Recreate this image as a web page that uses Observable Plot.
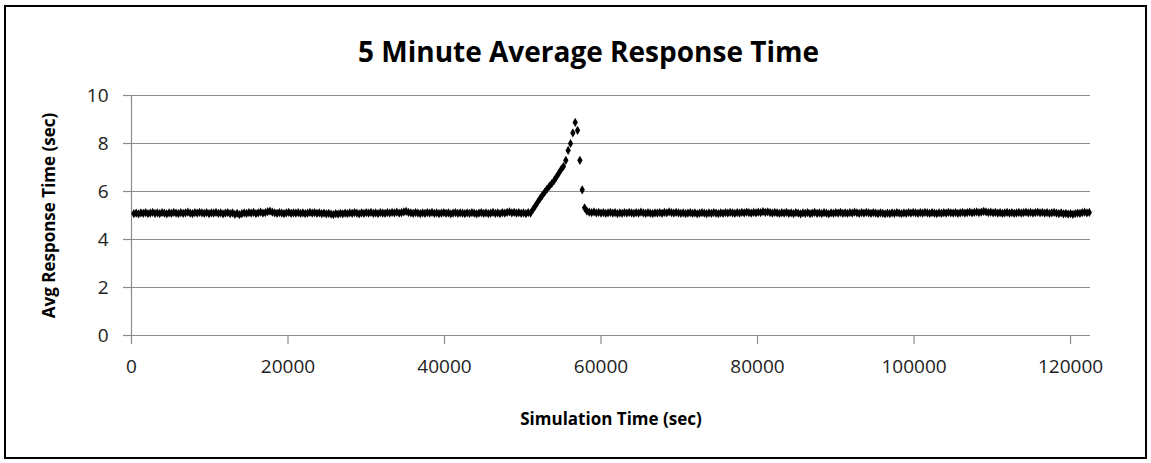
<!DOCTYPE html>
<html>
<head>
<meta charset="utf-8">
<script src="https://cdn.jsdelivr.net/npm/d3@7"></script>
<script src="https://cdn.jsdelivr.net/npm/@observablehq/plot@0.6"></script>
<style>
  html, body { margin: 0; padding: 0; background: #fff; }
  #wrap { position: relative; width: 1151px; height: 463px; }
  #border { position: absolute; left: 4px; top: 5px; width: 1139px; height: 450px; border: 2px solid #000; pointer-events: none; }
</style>
</head>
<body>
<div id="wrap"><div id="border"></div></div>
<script>
const chartTitle = "5 Minute Average Response Time";
const xTitle = "Simulation Time (sec)";
const yTitle = "Avg Response Time (sec)";
const xTicks = [0, 20000, 40000, 60000, 80000, 100000, 120000];
const yTicks = [0, 2, 4, 6, 8, 10];
const firstSampleTime = 300;   // seconds
const sampleInterval = 300;    // 5-minute averages

// Avg response time (sec), before the spike (t = 300 .. 51000)
const baselineBefore = [
  5.08, 5.10, 5.07, 5.11, 5.09, 5.12, 5.08, 5.10, 5.13, 5.09,
  5.11, 5.08, 5.12, 5.10, 5.07, 5.11, 5.09, 5.13, 5.10, 5.08,
  5.12, 5.09, 5.11, 5.14, 5.10, 5.08, 5.12, 5.10, 5.13, 5.11,
  5.09, 5.12, 5.08, 5.11, 5.10, 5.13, 5.09, 5.11, 5.07, 5.10,
  5.12, 5.08, 5.11, 5.05, 5.09, 5.04, 5.08, 5.11, 5.09, 5.12,
  5.10, 5.13, 5.08, 5.11, 5.14, 5.10, 5.12, 5.16, 5.18, 5.14,
  5.11, 5.09, 5.12, 5.10, 5.08, 5.11, 5.13, 5.09, 5.11, 5.10,
  5.12, 5.09, 5.11, 5.08, 5.10, 5.13, 5.10, 5.12, 5.09, 5.11,
  5.08, 5.10, 5.07, 5.09, 5.06, 5.04, 5.08, 5.06, 5.09, 5.07,
  5.10, 5.08, 5.11, 5.09, 5.12, 5.10, 5.07, 5.11, 5.09, 5.12,
  5.10, 5.13, 5.09, 5.11, 5.08, 5.12, 5.10, 5.09, 5.12, 5.10,
  5.13, 5.11, 5.14, 5.10, 5.12, 5.15, 5.17, 5.13, 5.11, 5.09,
  5.12, 5.10, 5.08, 5.11, 5.09, 5.12, 5.10, 5.13, 5.09, 5.11,
  5.08, 5.10, 5.12, 5.09, 5.11, 5.07, 5.10, 5.12, 5.09, 5.11,
  5.10, 5.08, 5.11, 5.09, 5.12, 5.10, 5.07, 5.10, 5.12, 5.09,
  5.11, 5.08, 5.10, 5.13, 5.09, 5.11, 5.08, 5.12, 5.10, 5.13,
  5.15, 5.11, 5.13, 5.10, 5.12, 5.09, 5.11, 5.08, 5.12, 5.10
];
// The spike (t = 51300 .. 57900)
const spike = [
  5.25, 5.40, 5.55, 5.70, 5.84, 5.97, 6.10, 6.22, 6.33, 6.45,
  6.60, 6.76, 6.92, 7.05, 7.30, 7.71, 8.00, 8.44, 8.88, 8.55,
  7.30, 6.07, 5.32
];
// After the spike (t = 58200 .. 122400)
const baselineAfter = [
  5.18, 5.14, 5.12, 5.15, 5.11, 5.13, 5.10, 5.12, 5.09, 5.11,
  5.13, 5.10, 5.12, 5.08, 5.11, 5.09, 5.12, 5.10, 5.13, 5.11,
  5.09, 5.12, 5.10, 5.14, 5.11, 5.09, 5.12, 5.10, 5.08, 5.11,
  5.10, 5.12, 5.09, 5.13, 5.11, 5.15, 5.12, 5.10, 5.13, 5.11,
  5.09, 5.11, 5.08, 5.10, 5.12, 5.09, 5.11, 5.07, 5.10, 5.12,
  5.10, 5.08, 5.11, 5.09, 5.12, 5.10, 5.08, 5.11, 5.09, 5.12,
  5.10, 5.13, 5.11, 5.09, 5.12, 5.10, 5.13, 5.11, 5.14, 5.12,
  5.10, 5.13, 5.11, 5.14, 5.12, 5.16, 5.13, 5.15, 5.12, 5.10,
  5.13, 5.11, 5.09, 5.12, 5.10, 5.13, 5.09, 5.11, 5.08, 5.12,
  5.10, 5.07, 5.11, 5.09, 5.12, 5.08, 5.10, 5.13, 5.09, 5.11,
  5.08, 5.12, 5.10, 5.07, 5.11, 5.09, 5.12, 5.10, 5.13, 5.09,
  5.11, 5.09, 5.12, 5.10, 5.14, 5.11, 5.09, 5.12, 5.10, 5.13,
  5.11, 5.09, 5.12, 5.10, 5.08, 5.11, 5.09, 5.07, 5.10, 5.08,
  5.11, 5.09, 5.12, 5.10, 5.08, 5.11, 5.09, 5.12, 5.10, 5.13,
  5.11, 5.09, 5.12, 5.10, 5.13, 5.11, 5.09, 5.12, 5.10, 5.08,
  5.11, 5.09, 5.12, 5.10, 5.13, 5.11, 5.10, 5.12, 5.09, 5.11,
  5.13, 5.10, 5.12, 5.14, 5.11, 5.13, 5.15, 5.12, 5.14, 5.17,
  5.15, 5.12, 5.14, 5.11, 5.13, 5.10, 5.12, 5.09, 5.11, 5.13,
  5.10, 5.12, 5.09, 5.11, 5.13, 5.10, 5.12, 5.14, 5.11, 5.13,
  5.10, 5.12, 5.14, 5.11, 5.13, 5.10, 5.12, 5.09, 5.11, 5.13,
  5.10, 5.08, 5.11, 5.07, 5.09, 5.06, 5.08, 5.05, 5.08, 5.10,
  5.09, 5.12, 5.14, 5.11, 5.13
];

const responseTimes = [...baselineBefore, ...spike, ...baselineAfter];
const data = responseTimes.map((v, i) => ({time: firstSampleTime + i * sampleInterval, value: v}));

const gridColor = "#8c8c8c";
const font = "'Open Sans', Lato, sans-serif";

const chart = Plot.plot({
  width: 1151,
  height: 463,
  marginLeft: 131,
  marginRight: 61,
  marginTop: 95,
  marginBottom: 128,
  style: {fontFamily: font, fontSize: "19px", color: "#000", background: "transparent", overflow: "visible"},
  x: {domain: [0, 122550], label: null},
  y: {domain: [0, 10], label: null},
  marks: [
    Plot.ruleY(yTicks, {stroke: gridColor, strokeWidth: 1.2}),
    Plot.ruleX([0], {stroke: gridColor, strokeWidth: 1.2}),
    Plot.axisX({ticks: xTicks, tickSize: 9, tickPadding: 15, stroke: gridColor, strokeWidth: 1.2, tickFormat: d => String(d), label: null, fontSize: 19, fill: "#222"}),
    Plot.axisY({ticks: yTicks, tickSize: 8, tickPadding: 15, stroke: gridColor, strokeWidth: 1.2, tickFormat: d => String(d), label: null, fontSize: 19, fill: "#222"}),
    Plot.dot(data, {x: "time", y: "value", symbol: "diamond", fill: "#000", stroke: "none", r: 2.8}),
    Plot.text([chartTitle], {frameAnchor: "top-left", dx: 588 - 131, dy: -53, textAnchor: "middle", fontSize: 28, fontWeight: "bold", fill: "#000"}),
    Plot.text([yTitle], {frameAnchor: "left", dx: -82, rotate: -90, textAnchor: "middle", fontSize: 17, fontWeight: "bold", fill: "#000"}),
    Plot.text([xTitle], {frameAnchor: "bottom", dy: 89, textAnchor: "middle", fontSize: 17, fontWeight: "bold", fill: "#000"})
  ]
});
chart.style.position = "absolute";
chart.style.left = "0";
chart.style.top = "0";
document.getElementById("wrap").appendChild(chart);
</script>
</body>
</html>
